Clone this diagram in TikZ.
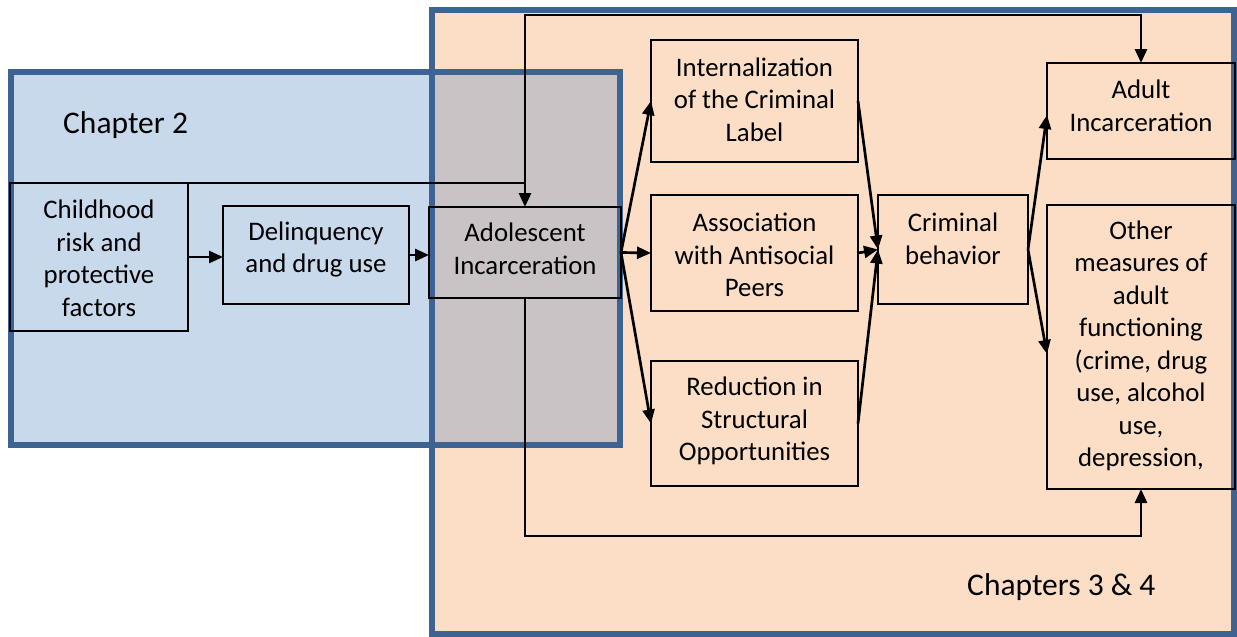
\documentclass[tikz,border=0pt]{standalone}
\usepackage{fontspec}
\setmainfont{Carlito}
\usetikzlibrary{arrows.meta}
\definecolor{bluefill}{HTML}{C9D9EC}
\definecolor{peachfill}{HTML}{FBDEC5}
\definecolor{overlapfill}{HTML}{C9C3C6}
\definecolor{frameblue}{HTML}{3D6393}
\begin{document}
\begin{tikzpicture}[x=1pt,y=-1pt,
  region/.style={line width=5.5pt, draw=frameblue},
  box/.style={draw=black, line width=2pt, inner sep=0pt, outer sep=0pt},
  txt/.style={font=\fontsize{26.8}{32.5}\selectfont, align=center, inner sep=0pt},
  chap/.style={font=\fontsize{31.5}{36}\selectfont, anchor=west, inner sep=0pt},
  conn/.style={line width=2.7pt, -{Triangle[length=14pt,width=12pt]}}]
\useasboundingbox (0,0) rectangle (1237,637);
% regions
\fill[peachfill] (432,10) rectangle (1234,634);
\fill[bluefill] (11,72) rectangle (620,445);
\fill[overlapfill] (432,72) rectangle (620,445);
\draw[region] (432,10) rectangle (1234,634);
\draw[region] (11,72) rectangle (620,445);
\node[chap] (ch2) at (63,125) {Chapter 2};
\node[chap] (ch34) at (967,587) {Chapters 3 \& 4};
% boxes
\node[box, minimum width=178pt, minimum height=148pt] (child) at (99,257) {};
\node[box, minimum width=186pt, minimum height=98pt] (delinq) at (316,255) {};
\node[box, minimum width=192pt, minimum height=91pt] (adol) at (525,252.5) {};
\node[box, minimum width=207pt, minimum height=122pt] (intern) at (754.5,101) {};
\node[box, minimum width=207pt, minimum height=116pt] (assoc) at (754.5,253) {};
\node[box, minimum width=207pt, minimum height=125pt] (reduc) at (754.5,423.5) {};
\node[box, minimum width=150pt, minimum height=109pt] (crim) at (953,249.5) {};
\node[box, minimum width=188pt, minimum height=96pt] (adult) at (1141,111) {};
\node[box, minimum width=188pt, minimum height=284pt] (other) at (1141,347) {};
% texts
\node[txt] (tchild) at (99,258.5) {Childhood\\risk and\\protective\\factors};
\node[txt] (tdelinq) at (316,249.5) {Delinquency\\and drug use};
\node[txt] (tadol) at (525,249) {Adolescent\\Incarceration};
\node[txt] (tintern) at (754.5,99.5) {Internalization\\of the Criminal\\Label};
\node[txt] (tassoc) at (754.5,255) {Association\\with Antisocial\\Peers};
\node[txt] (treduc) at (754.5,421) {Reduction in\\Structural\\Opportunities};
\node[txt] (tcrim) at (953,239) {Criminal\\behavior};
\node[txt] (tadult) at (1141,106) {Adult\\Incarceration};
\node[txt] (tother) at (1141,346) {Other\\measures of\\adult\\functioning\\(crime, drug\\use, alcohol\\use,\\depression,};
% connectors
\draw[conn] (child.east) -- (child.east -| delinq.west);
\draw[conn] (delinq.east) -- (delinq.east -| adol.west);
\coordinate (j) at (adol.north |- child.north east);
\draw[conn] (child.north east) -- (j) -- (adol.north);
\coordinate (topleft) at (525,15);
\draw[conn] (j) -- (topleft) -| (adult.north);
\coordinate (botleft) at (525,536);
\draw[conn] (adol.south) -- (botleft) -| (other.south);
\draw[conn] (adol.east) -- (intern.west);
\draw[conn] (adol.east) -- (assoc.west);
\draw[conn] (adol.east) -- (reduc.west);
\draw[conn] (intern.east) -- (crim.west);
\draw[conn] (assoc.east) -- (crim.west);
\draw[conn] (reduc.east) -- (crim.west);
\draw[conn] (crim.east) -- ([yshift=-4pt]adult.west);
\draw[conn] (crim.east) -- ([yshift=-7pt]other.west);
\end{tikzpicture}
\end{document}
